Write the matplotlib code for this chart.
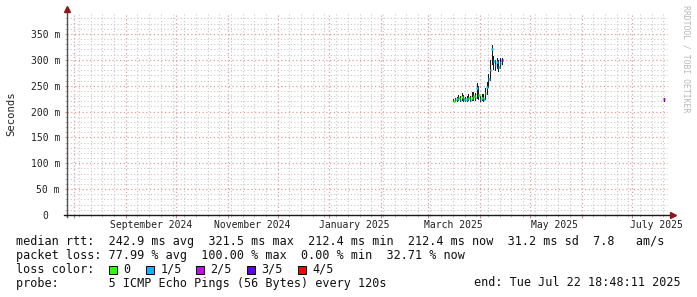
import numpy as np
import matplotlib
matplotlib.use("Agg")
import matplotlib.pyplot as plt
import matplotlib.dates as mdates
from matplotlib.patches import Rectangle
from matplotlib.transforms import ScaledTranslation
import datetime as dt

# ---------------- data ----------------
days = ["2025-03-16", "2025-03-17", "2025-03-18", "2025-03-19", "2025-03-20",
        "2025-03-21", "2025-03-22", "2025-03-23", "2025-03-24", "2025-03-25",
        "2025-03-26", "2025-03-27", "2025-03-28", "2025-03-29", "2025-03-30",
        "2025-03-31", "2025-04-01", "2025-04-02", "2025-04-03", "2025-04-04",
        "2025-04-05", "2025-04-06", "2025-04-07", "2025-04-08", "2025-04-09",
        "2025-04-10", "2025-04-11", "2025-04-12", "2025-04-13", "2025-04-14",
        "2025-07-20"]
median_ms = [221, 222, 224, 226, 223, 228, 225, 222, 224, 227,
             223, 226, 230, 228, 245, 232, 224, 226, 224, 235,
             248, 262, 280, 321, 298, 290, 295, 286, 294, 300,
             224]
smoke_lo_ms = [218, 219, 219, 220, 219, 220, 219, 218, 219, 220,
               219, 220, 221, 221, 224, 222, 219, 220, 219, 222,
               232, 245, 260, 290, 280, 278, 282, 276, 282, 290,
               218]
smoke_hi_ms = [224, 226, 229, 232, 231, 236, 232, 228, 230, 234,
               231, 237, 238, 236, 255, 250, 231, 234, 233, 245,
               258, 272, 300, 328, 308, 300, 304, 300, 303, 303,
               226]
loss_level = [0, 0, 1, 0, 1, 0, 1, 0, 1, 0,
              1, 0, 0, 1, 1, 0, 1, 0, 1, 0,
              1, 1, 1, 1, 1, 1, 1, 1, 1, 3,
              2]

loss_labels = ["0", "1/5", "2/5", "3/5", "4/5"]
loss_colors = ["#26ff00", "#00b8ff", "#cc00ff", "#5e00ff", "#ff0000"]

x_tick_labels = ["September 2024", "November 2024", "January 2025",
                 "March 2025", "May 2025", "July 2025"]
x_tick_label_dates = ["2024-09-16", "2024-11-16", "2025-01-16",
                      "2025-03-16", "2025-05-16", "2025-07-16"]

y_ticks = [0, 0.05, 0.10, 0.15, 0.20, 0.25, 0.30, 0.35]
y_tick_labels = ["0", "50 m", "100 m", "150 m", "200 m", "250 m", "300 m", "350 m"]

legend_lines = [
    "median rtt:  242.9 ms avg  321.5 ms max  212.4 ms min  212.4 ms now  31.2 ms sd  7.8   am/s",
    "packet loss: 77.99 % avg  100.00 % max  0.00 % min  32.71 % now",
    "loss color:",
    "probe:       5 ICMP Echo Pings (56 Bytes) every 120s",
]
end_text = "end: Tue Jul 22 18:48:11 2025"
watermark = "RRDTOOL / TOBI OETIKER"

end_time = dt.datetime(2025, 7, 22, 18, 48, 11)
start_time = end_time - dt.timedelta(days=360)

# ---------------- figure ----------------
W, H = 697, 297
DPI = 100
MONO = "DejaVu Sans Mono"
plt.rcParams["font.family"] = [MONO]

fig = plt.figure(figsize=(W / DPI, H / DPI), dpi=DPI, facecolor="white")
L, R, T, B = 67, 668, 14, 215
ax = fig.add_axes([L / W, 1 - B / H, (R - L) / W, (B - T) / H])
ax.set_facecolor("white")

x = mdates.date2num([dt.datetime.strptime(d, "%Y-%m-%d") + dt.timedelta(hours=12) for d in days])
med = np.array(median_ms) / 1000.0
lo = np.array(smoke_lo_ms) / 1000.0
hi = np.array(smoke_hi_ms) / 1000.0

ax.bar(x, hi - lo, bottom=lo, width=0.7, color="#1c1c1c", linewidth=0, zorder=3)
for xi, m, lv in zip(x, med, loss_level):
    ax.hlines(m, xi - 0.5, xi + 0.5, color=loss_colors[lv], lw=1.8, zorder=4)

ax.set_xlim(mdates.date2num(start_time), mdates.date2num(end_time))
ax.set_ylim(0, 0.3886)

# grid
ax.xaxis.set_major_locator(mdates.MonthLocator())
ax.xaxis.set_minor_locator(mdates.WeekdayLocator(byweekday=mdates.SU))
ax.yaxis.set_major_locator(matplotlib.ticker.FixedLocator(y_ticks))
ax.yaxis.set_minor_locator(matplotlib.ticker.MultipleLocator(0.01))
ax.grid(which="minor", color="#c8c8c8", linestyle=(0, (1, 2)), lw=0.8, zorder=0)
ax.grid(which="major", color="#e49a9a", linestyle=(0, (1, 2)), lw=0.9, zorder=1)
ax.set_axisbelow(True)

ax.set_yticklabels(y_tick_labels, fontsize=7, family=MONO, color="#202020")
ax.tick_params(axis="x", which="both", labelbottom=False)
ax.tick_params(axis="x", which="major", length=2.2, color="#e08080", width=0.8)
ax.tick_params(axis="x", which="minor", length=1.5, color="#c0c0c0", width=0.7)
ax.tick_params(axis="y", which="major", length=1.5, pad=3.6, color="#e08080", width=0.8)
ax.tick_params(axis="y", which="minor", length=1.2, color="#c0c0c0", width=0.7)

for lab in ax.get_yticklabels():
    if lab.get_text() == "0":
        lab.set_transform(lab.get_transform() + ScaledTranslation(-11.8 / DPI, 0, fig.dpi_scale_trans))

for s in ax.spines.values():
    s.set_visible(False)

# axes lines with arrows
ax.plot([0, 0], [-0.012, 1.02], transform=ax.transAxes, color="#505050", lw=1.0, clip_on=False, zorder=5)
ax.plot([-0.005, 1.006], [0, 0], transform=ax.transAxes, color="#1a1a1a", lw=1.0, clip_on=False, zorder=5)
ax.plot([0], [1.025], marker="^", markersize=4.5, color="#8b1a1a", transform=ax.transAxes, clip_on=False, zorder=6)
ax.plot([1.008], [0], marker=">", markersize=4.5, color="#8b1a1a", transform=ax.transAxes, clip_on=False, zorder=6)

# x labels at mid-month
for lbl, d in zip(x_tick_labels, x_tick_label_dates):
    ax.annotate(lbl, xy=(mdates.datestr2num(d), 0), xycoords=("data", "axes fraction"),
                xytext=(0, -7.2), textcoords="offset points", ha="center", va="center",
                fontsize=7, family=MONO, color="#202020", annotation_clip=False)

# y label
fig.text(11 / W, 1 - 114 / H, "Seconds", rotation=90, ha="center", va="center",
         fontsize=7.6, family=MONO, color="#202020")

# watermark
fig.text(686 / W, 1 - 5 / H, watermark, rotation=270, ha="center", va="top",
         fontsize=5.9, family=MONO, color="#b8b8b8")

# legend text
baselines = [245.5, 259, 273, 286.5]
for line, yb in zip(legend_lines, baselines):
    fig.text(16 / W, 1 - yb / H, line, ha="left", va="baseline", fontsize=8.5,
             family=MONO, color="#101010")
fig.text(680.5 / W, 1 - 286.5 / H, end_text, ha="right", va="baseline", fontsize=8.5,
         family=MONO, color="#101010")

sw_x = [109, 146, 196, 247, 298]
for sx, lbl, col in zip(sw_x, loss_labels, loss_colors):
    fig.add_artist(Rectangle((sx / W, 1 - 273.5 / H), 8 / W, 8 / H, transform=fig.transFigure,
                             facecolor=col, edgecolor="black", lw=0.7))
    fig.text((sx + 14.3) / W, 1 - 273 / H, lbl, ha="left", va="baseline", fontsize=8.5,
             family=MONO, color="#101010")

fig.savefig("out.png", dpi=DPI, facecolor="white")
